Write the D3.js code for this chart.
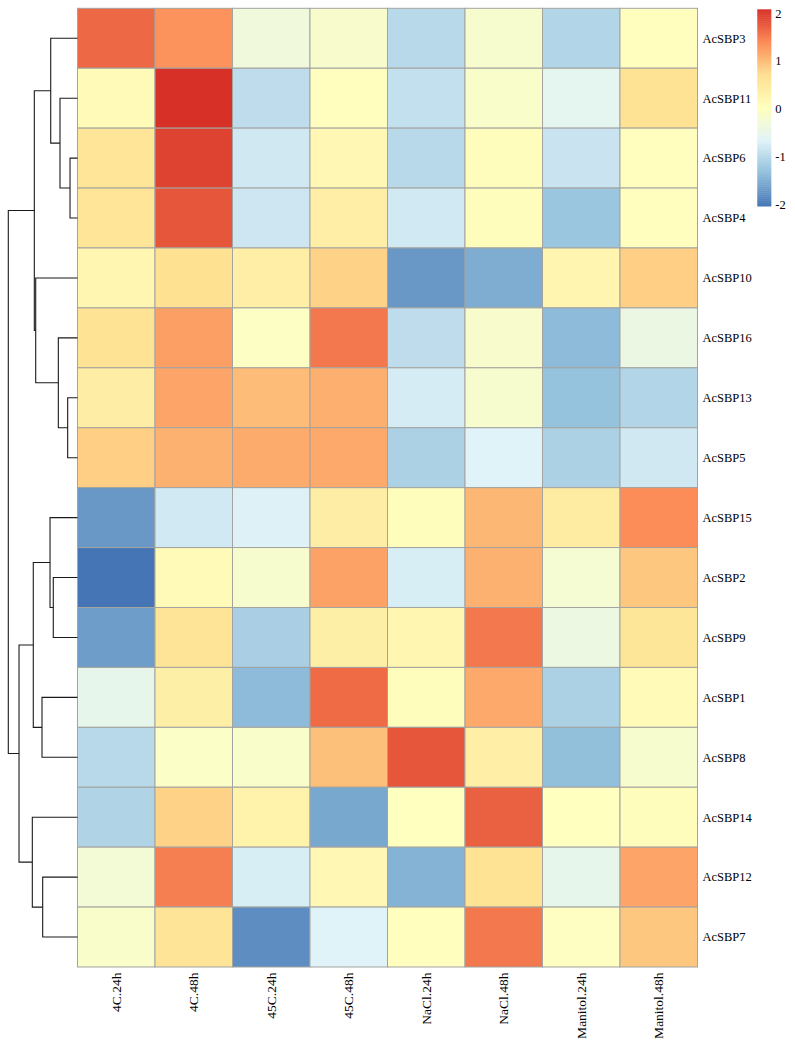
<!DOCTYPE html>
<html>
<head>
<meta charset="utf-8">
<script src="https://cdn.jsdelivr.net/npm/d3@7"></script>
<style>
html,body{margin:0;padding:0;background:#fff;}
svg{display:block;}
text{font-family:"Liberation Serif","Times New Roman",serif;fill:#000;}
</style>
</head>
<body>
<svg id="chart" width="795" height="1045"></svg>
<script>
const genes = ["AcSBP3","AcSBP11","AcSBP6","AcSBP4","AcSBP10","AcSBP16","AcSBP13","AcSBP5",
               "AcSBP15","AcSBP2","AcSBP9","AcSBP1","AcSBP8","AcSBP14","AcSBP12","AcSBP7"];
const conditions = ["4C.24h","4C.48h","45C.24h","45C.48h","NaCl.24h","NaCl.48h","Manitol.24h","Manitol.48h"];

// z-scored expression, one row per gene (order as in genes)
const values = [
  [ 1.67,  1.35, -0.30, -0.13, -1.00, -0.15, -1.05,  0.05],
  [ 0.15,  2.08, -0.95,  0.05, -0.90, -0.10, -0.55,  0.65],
  [ 0.60,  1.95, -0.80,  0.20, -1.00,  0.07, -0.85,  0.05],
  [ 0.60,  1.80, -0.82,  0.40, -0.78,  0.08, -1.25,  0.05],
  [ 0.22,  0.70,  0.40,  0.82, -1.70, -1.50,  0.25,  0.85],
  [ 0.65,  1.25, -0.02,  1.55, -0.95, -0.12, -1.37, -0.40],
  [ 0.42,  1.20,  1.00,  1.12, -0.75, -0.15, -1.30, -1.05],
  [ 0.85,  1.10,  1.15,  1.17, -1.10, -0.65, -1.10, -0.80],
  [-1.70, -0.78, -0.68,  0.42,  0.07,  1.05,  0.45,  1.40],
  [-2.02,  0.15, -0.15,  1.22, -0.72,  1.10, -0.20,  0.92],
  [-1.65,  0.62, -1.12,  0.38,  0.22,  1.55, -0.38,  0.58],
  [-0.50,  0.38, -1.37,  1.65,  0.07,  1.17, -1.10,  0.15],
  [-1.00, -0.05, -0.10,  0.98,  1.80,  0.40, -1.33, -0.15],
  [-1.07,  0.82,  0.32, -1.55,  0.03,  1.72,  0.02,  0.08],
  [-0.25,  1.50, -0.72,  0.20, -1.45,  0.65, -0.50,  1.20],
  [-0.10,  0.62, -1.80, -0.65,  0.05,  1.55,  0.00,  0.92]
];

// row dendrogram merges: [left, right, height]; "mN" refers to merge N
const merges = [
  ["AcSBP6","AcSBP4",1.08],
  ["AcSBP11","m0",2.53],
  ["AcSBP3","m1",3.87],
  ["AcSBP13","AcSBP5",1.42],
  ["AcSBP16","m3",2.77],
  ["AcSBP10","m4",6.04],
  ["m2","m5",6.24],
  ["AcSBP2","AcSBP9",3.50],
  ["AcSBP15","m7",3.97],
  ["AcSBP1","AcSBP8",5.13],
  ["m8","m9",6.39],
  ["AcSBP12","AcSBP7",5.03],
  ["AcSBP14","m11",6.53],
  ["m10","m12",8.45],
  ["m6","m13",10.0]
];

const legendTicks = [-2,-1,0,1,2];
const paletteColors = ["#4575B4","#91BFDB","#E0F3F8","#FFFFBF","#FEE090","#FC8D59","#D73027"];

const svg = d3.select("#chart");
const gridLeft = 77.5, gridTop = 8.3, gridRight = 697.5, gridBottom = 967.0;

const x = d3.scaleBand().domain(conditions).range([gridLeft, gridRight]);
const y = d3.scaleBand().domain(genes).range([gridTop, gridBottom]);

const flat = values.flat();
const vmin = d3.min(flat), vmax = d3.max(flat);
const colorStops = paletteColors.map((c,i)=> vmin + (vmax-vmin)*i/(paletteColors.length-1));
const color = d3.scaleLinear().domain(colorStops).range(paletteColors).interpolate(d3.interpolateRgb);

// cells
const cells = [];
genes.forEach((g,i)=>conditions.forEach((c,j)=>cells.push({g,c,v:values[i][j]})));
svg.append("g").selectAll("rect").data(cells).join("rect")
  .attr("x", d=>x(d.c)).attr("y", d=>y(d.g))
  .attr("width", x.bandwidth()).attr("height", y.bandwidth())
  .attr("fill", d=>color(d.v))
  .attr("stroke", "#a3a3a0").attr("stroke-width", 1);

// row labels
svg.append("g").selectAll("text").data(genes).join("text")
  .attr("x", gridRight + 5).attr("y", d=>y(d)+y.bandwidth()/2)
  .attr("dy","0.35em").attr("font-size", 12.5).text(d=>d);

// column labels
svg.append("g").selectAll("text").data(conditions).join("text")
  .attr("transform", d=>`translate(${x(d)+x.bandwidth()/2},${gridBottom+5.5}) rotate(-90)`)
  .attr("text-anchor","end").attr("dy","0.35em").attr("font-size", 13.5).text(d=>d);

// dendrogram
const h = d3.scaleLinear().domain([0, d3.max(merges, m=>m[2])]).range([gridLeft, 8.3]);
const nodePos = {};
genes.forEach(g=>{ nodePos[g] = {y: y(g)+y.bandwidth()/2, hgt: 0}; });
const dg = svg.append("g").attr("fill","none").attr("stroke","#1a1a1a").attr("stroke-width",1.1);
merges.forEach((m,i)=>{
  const a = nodePos[m[0]], b = nodePos[m[1]];
  const xm = h(m[2]);
  const path = d3.path();
  path.moveTo(h(a.hgt), a.y); path.lineTo(xm, a.y); path.lineTo(xm, b.y); path.lineTo(h(b.hgt), b.y);
  dg.append("path").attr("d", path.toString());
  nodePos["m"+i] = {y:(a.y+b.y)/2, hgt:m[2]};
});

// legend
const legTop = 9.3, legBottom = 206, legX = 757.3, legW = 14;
const ly = d3.scaleLinear().domain([vmin, vmax]).range([legBottom, legTop]);
const nSteps = 100;
const steps = d3.range(nSteps).map(i=>vmin + (vmax-vmin)*i/nSteps);
const lg = svg.append("g");
lg.selectAll("rect").data(steps).join("rect")
  .attr("x", legX).attr("width", legW)
  .attr("y", d=>ly(d+(vmax-vmin)/nSteps)).attr("height", (legBottom-legTop)/nSteps+0.5)
  .attr("fill", d=>color(d+(vmax-vmin)/nSteps/2));
lg.selectAll("text").data(legendTicks).join("text")
  .attr("x", legX+legW+4).attr("y", d=>ly(d)).attr("dy","0.35em")
  .attr("font-size", 12.5).text(d=>d<0 ? "-"+Math.abs(d) : d);
</script>
</body>
</html>
